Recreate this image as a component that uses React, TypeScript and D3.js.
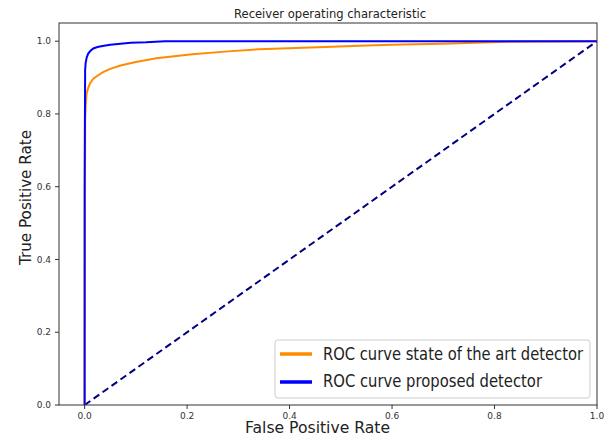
import React from "react";
import * as d3 from "d3";

const orangeFpr = [0, 0.0, 0.001, 0.002, 0.004, 0.007, 0.011, 0.017, 0.025, 0.036, 0.05, 0.07, 0.1, 0.14, 0.21, 0.28, 0.34, 0.47, 0.55, 0.62, 0.7, 0.81, 1.0];
const orangeTpr = [0, 0.05, 0.78, 0.82, 0.857, 0.872, 0.885, 0.897, 0.905, 0.915, 0.924, 0.933, 0.943, 0.953, 0.964, 0.972, 0.978, 0.984, 0.988, 0.991, 0.993, 0.998, 1.0];

const blueFpr = [0, 0.0, 0.001, 0.002, 0.004, 0.007, 0.011, 0.017, 0.025, 0.035, 0.05, 0.07, 0.09, 0.12, 0.157, 1.0];
const blueTpr = [0, 0.6, 0.92, 0.94, 0.955, 0.966, 0.973, 0.98, 0.984, 0.987, 0.99, 0.993, 0.996, 0.997, 1.0, 1.0];

const diagX = [0, 1];
const diagY = [0, 1];

const xTicks = [0, 0.2, 0.4, 0.6, 0.8, 1.0];
const yTicks = [0, 0.2, 0.4, 0.6, 0.8, 1.0];

const legendLabels = ["ROC curve state of the art detector", "ROC curve proposed detector"];
const legendColors = ["#ff8c00", "#0000ff"];

const L = 59, R = 597, T = 23, B = 405;
const FONT = "DejaVu Sans, sans-serif";

export default function App() {
  const x = d3.scaleLinear().domain([-0.05, 1.0]).range([L, R]);
  const y = d3.scaleLinear().domain([0, 1.05]).range([B, T]);
  const line = d3.line<[number, number]>().x((d) => x(d[0])).y((d) => y(d[1]));
  const orange = line(orangeFpr.map((v, i) => [v, orangeTpr[i]]) as [number, number][]);
  const blue = line(blueFpr.map((v, i) => [v, blueTpr[i]]) as [number, number][]);
  const diag = line(diagX.map((v, i) => [v, diagY[i]]) as [number, number][]);
  const axisColor = "#333";
  return (
    <svg width={611} height={441} style={{ position: "absolute", left: 0, top: 0, background: "#fff" }} fontFamily={FONT}>
      <rect x={0} y={0} width={611} height={441} fill="#fff" />
      <defs>
        <clipPath id="plot">
          <rect x={L} y={T} width={R - L} height={B - T} />
        </clipPath>
      </defs>
      <g clipPath="url(#plot)">
        <path d={diag || ""} fill="none" stroke="#000080" strokeWidth={2} strokeDasharray="7,4" />
        <path d={orange || ""} fill="none" stroke="#ff8c00" strokeWidth={2} />
        <path d={blue || ""} fill="none" stroke="#0000ff" strokeWidth={2} />
      </g>
      <rect x={L} y={T} width={R - L} height={B - T} fill="none" stroke={axisColor} strokeWidth={1} />
      {xTicks.map((t) => (
        <g key={"x" + t}>
          <line x1={x(t)} x2={x(t)} y1={B} y2={B + 4} stroke={axisColor} />
          <text x={x(t)} y={419} fontSize={9} textAnchor="middle" fill={axisColor}>{t.toFixed(1)}</text>
        </g>
      ))}
      {yTicks.map((t) => (
        <g key={"y" + t}>
          <line x1={L - 4} x2={L} y1={y(t)} y2={y(t)} stroke={axisColor} />
          <text x={51} y={y(t)} dy="0.35em" fontSize={9} textAnchor="end" fill={axisColor}>{t.toFixed(1)}</text>
        </g>
      ))}
      <text x={330} y={18} fontSize={12} textAnchor="middle" fill="#222" textLength={192} lengthAdjust="spacingAndGlyphs">Receiver operating characteristic</text>
      <text x={317.5} y={433} fontSize={16} textAnchor="middle" fill="#222" textLength={145} lengthAdjust="spacingAndGlyphs">False Positive Rate</text>
      <text transform="translate(31,197.5) rotate(-90)" fontSize={16} textAnchor="middle" fill="#222" textLength={135} lengthAdjust="spacingAndGlyphs">True Positive Rate</text>
      <rect x={275} y={340} width={315} height={58} rx={3} fill="#fff" fillOpacity={0.8} stroke="#ccc" />
      {legendLabels.map((lab, i) => (
        <g key={lab}>
          <line x1={280} x2={312} y1={354 + i * 28} y2={354 + i * 28} stroke={legendColors[i]} strokeWidth={3.5} />
          <text x={323} y={360 + i * 27} fontSize={17} fill="#222" textLength={i === 0 ? 260 : 219} lengthAdjust="spacingAndGlyphs">{lab}</text>
        </g>
      ))}
    </svg>
  );
}
